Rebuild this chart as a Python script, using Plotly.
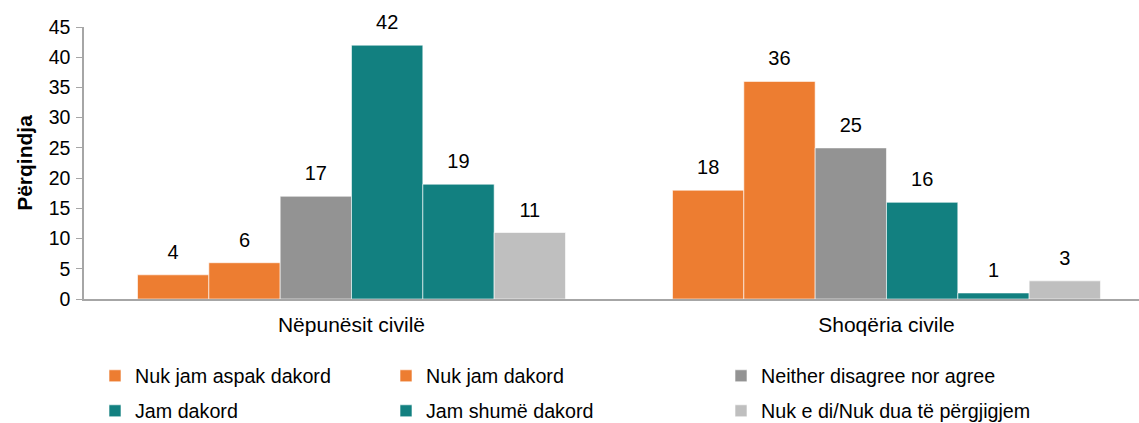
import plotly.graph_objects as go

categories = ["Nëpunësit civilë", "Shoqëria civile"]
series_names = [
    "Nuk jam aspak dakord",
    "Nuk jam dakord",
    "Neither disagree nor agree",
    "Jam dakord",
    "Jam shumë dakord",
    "Nuk e di/Nuk dua të përgjigjem",
]
nuk_jam_aspak = [4, 18]
nuk_jam = [6, 36]
neither = [17, 25]
jam_dakord = [42, 16]
jam_shume = [19, 1]
nuk_e_di = [11, 3]
values = [nuk_jam_aspak, nuk_jam, neither, jam_dakord, jam_shume, nuk_e_di]
colors = ["#ED7D31", "#ED7D31", "#939393", "#128080", "#128080", "#BFBFBF"]
y_ticks = [0, 5, 10, 15, 20, 25, 30, 35, 40, 45]

FONT = "Liberation Sans, Arial, sans-serif"
W, H = 1139, 423
ML, MR, MT, MB = 84, 0, 27, 124
pw = W - ML - MR
ph = H - MT - MB

# legend positions (px of legend box left, row centre)
leg_cols = [95, 386, 721]
leg_rows = [376, 411]

fig = go.Figure()
for i, (name, vals, col) in enumerate(zip(series_names, values, colors)):
    legname = "legend" if i == 0 else f"legend{i+1}"
    fig.add_trace(go.Bar(
        x=categories, y=vals, name=name,
        marker=dict(color=col, line=dict(color="rgba(255,255,255,0.6)", width=1)),
        legend=legname, offsetgroup=str(i),
    ))
for i, vals in enumerate(values):
    fig.add_trace(go.Scatter(
        x=categories, y=vals, mode="markers+text", text=[str(v) for v in vals],
        textposition="top center", textfont=dict(family=FONT, size=20, color="#000000"),
        marker=dict(size=16, opacity=0), showlegend=False, hoverinfo="skip",
        offsetgroup=str(i), cliponaxis=False,
    ))

layout_legends = {}
for i in range(6):
    r, c = divmod(i, 3)
    key = "legend" if i == 0 else f"legend{i+1}"
    layout_legends[key] = dict(
        x=(leg_cols[c] - ML) / pw, xanchor="left",
        y=(H - MB - leg_rows[r]) / ph, yanchor="middle",
        font=dict(family=FONT, size=19.7, color="#000000"),
        bgcolor="rgba(0,0,0,0)", borderwidth=0,
    )

fig.update_layout(
    width=W, height=H,
    margin=dict(l=ML, r=MR, t=MT, b=MB, autoexpand=False),
    paper_bgcolor="white", plot_bgcolor="white",
    barmode="group", bargap=0.2, bargroupgap=0,
    scattermode="group", scattergap=0.2,
    font=dict(family=FONT, size=18, color="#000000"),
    showlegend=True,
    **layout_legends,
)
fig.update_xaxes(
    range=[-0.5, 1.472], showline=True, linecolor="#A6A6A6", linewidth=1.5,
    ticks="", showgrid=False, ticklabelstandoff=6,
    tickfont=dict(family=FONT, size=21, color="#000000"),
)
fig.update_yaxes(
    range=[0, 45], tickvals=y_ticks, showline=True, linecolor="#A6A6A6", linewidth=1.5,
    ticks="outside", ticklen=6, tickcolor="#A6A6A6", showgrid=False, zeroline=False,
    ticklabelstandoff=2,
    tickfont=dict(family=FONT, size=19.5, color="#000000"),
    title=dict(text="<b>Përqindja</b>", font=dict(family=FONT, size=21, color="#000000"), standoff=10),
)
fig.write_html("out.html")
